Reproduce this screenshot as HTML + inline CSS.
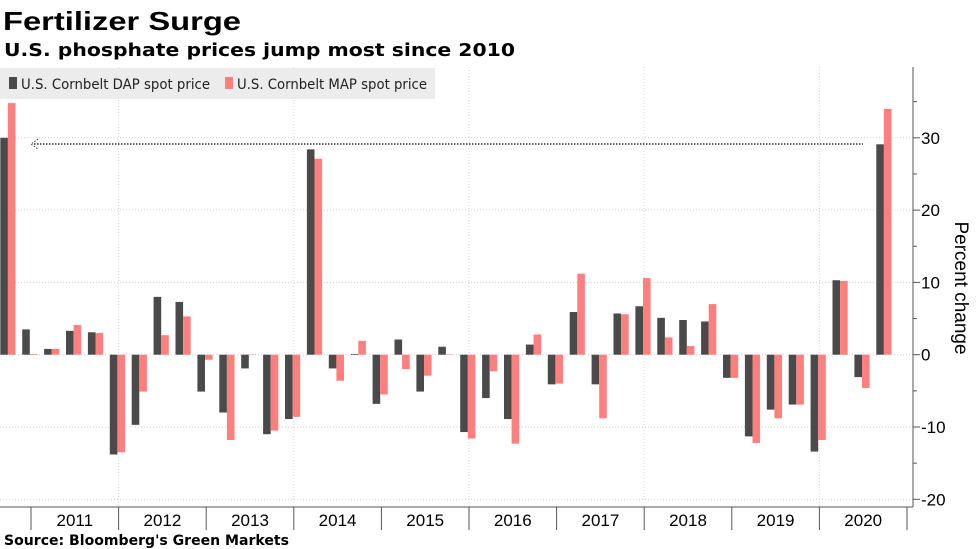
<!DOCTYPE html>
<html><head><meta charset="utf-8"><style>
body{margin:0;background:#fff;font-family:"DejaVu Sans","Liberation Sans",sans-serif;}
svg{display:block}
</style></head><body>
<svg width="977" height="549">
<text x="3" y="30" font-size="26" font-weight="bold" fill="#000" textLength="238" lengthAdjust="spacingAndGlyphs" font-family="Liberation Sans">Fertilizer Surge</text>
<text x="4" y="56" font-size="18" font-weight="bold" fill="#000" textLength="511" lengthAdjust="spacingAndGlyphs">U.S. phosphate prices jump most since 2010</text>
<g id="grid"></g>
<g id="bars"></g>
<g id="axes"></g>
<g>
<rect x="0" y="68" width="435" height="31" fill="#ececec"/>
<rect x="9" y="77" width="8" height="12" fill="#4a4a4a"/>
<text x="21" y="89" font-size="14" fill="#222" textLength="189" lengthAdjust="spacingAndGlyphs">U.S. Cornbelt DAP spot price</text>
<rect x="225" y="77" width="8" height="12" fill="#ff7f7f"/>
<text x="237" y="89" font-size="14" fill="#222" textLength="190" lengthAdjust="spacingAndGlyphs">U.S. Cornbelt MAP spot price</text>
</g>
<text transform="translate(955,288) rotate(90)" text-anchor="middle" font-size="19" fill="#000" font-family="Liberation Sans">Percent change</text>
<text x="4" y="545" font-size="14" font-weight="bold" fill="#000" textLength="285" lengthAdjust="spacingAndGlyphs">Source: Bloomberg's Green Markets</text>
</svg>
<script>
const dap=[30.0,3.5,0.8,3.3,3.1,-13.8,-9.7,8.0,7.3,-5.1,-8.0,-1.9,-11.0,-8.9,28.4,-1.9,0.1,-6.8,2.1,-5.1,1.1,-10.7,-6.0,-8.9,1.4,-4.1,5.9,-4.1,5.7,6.7,5.1,4.8,4.6,-3.2,-11.3,-7.6,-6.9,-13.4,10.3,-3.1,29.1];
const mapv=[34.8,0.1,0.8,4.1,3.0,-13.5,-5.1,2.7,5.3,-0.7,-11.8,0.05,-10.5,-8.6,27.1,-3.6,1.9,-5.5,-2.0,-2.9,0.05,-11.6,-2.3,-12.3,2.8,-4.0,11.2,-8.8,5.6,10.6,2.4,1.2,7.0,-3.2,-12.2,-8.8,-6.9,-11.8,10.2,-4.6,34.0];
const years=["2011","2012","2013","2014","2015","2016","2017","2018","2019","2020"];
const yTicks=[30,20,10,0,-10,-20];
const NS="http://www.w3.org/2000/svg";
const y=v=>354.7-v*7.23;
const gx=i=>0.3+i*21.9;
const yearX=k=>31+k*87.6;
function mk(tag,attrs,parent){const e=document.createElementNS(NS,tag);for(const k in attrs)e.setAttribute(k,attrs[k]);parent.appendChild(e);return e;}
const grid=document.getElementById('grid'),bars=document.getElementById('bars'),axes=document.getElementById('axes');
yTicks.forEach(t=>{
 const l=mk('line',{x1:0,x2:913,y1:y(t),y2:y(t),stroke:'#cfcfcf','stroke-dasharray':'1,2'},grid);
 
 
 const tk=mk('line',{x1:913,x2:920,y1:y(t),y2:y(t),stroke:'#555'},axes);
 
 
 const tx=mk('text',{x:921,y:y(t)+6,'font-size':17,fill:'#000','font-family':'Liberation Sans'},axes);
 tx.textContent=t<0?'-'+Math.abs(t):String(t);
 
 
});
[35,25,15,5,-5,-15].forEach(t=>{const m=mk('line',{x1:913,x2:917,y1:y(t),y2:y(t),stroke:'#555'},axes);
 
 });
for(let k=1;k<years.length;k+=2){const v=mk('line',{x1:yearX(k),x2:yearX(k),y1:67,y2:507,stroke:'#d6d6d6','stroke-dasharray':'1,2'},grid);
 
 }
dap.forEach((v,i)=>{
 const b=mk('rect',{x:gx(i),y:Math.min(y(v),y(0)),width:7.6,height:Math.abs(y(v)-y(0)),fill:'#4a4a4a'},bars);
 
 
 const m=mapv[i];
 const c=mk('rect',{x:gx(i)+7.6,y:Math.min(y(m),y(0)),width:7.6,height:Math.abs(y(m)-y(0)),fill:'#ff7f7f'},bars);
 
 
});
const ref=mk('line',{x1:34,x2:863,y1:144,y2:144,stroke:'#333','stroke-width':1.5,'stroke-dasharray':'1.5,1.5'},axes);


const ah=mk('path',{d:'M38,139 L31,144 L38,149',fill:'none',stroke:'#333','stroke-dasharray':'1.5,1.5'},axes);


const ya=mk('line',{x1:913,x2:913,y1:67,y2:507,stroke:'#555'},axes);


const xa=mk('line',{x1:0,x2:913,y1:507,y2:507,stroke:'#555'},axes);


for(let k=0;k<=years.length;k++){const t=mk('line',{x1:yearX(k),x2:yearX(k),y1:507,y2:530,stroke:'#555'},axes);
 
 }
years.forEach((yr,k)=>{const t=mk('text',{x:yearX(k)+43.8,y:526,'font-size':17,'text-anchor':'middle',fill:'#000','font-family':'Liberation Sans'},axes);
 t.textContent=yr;
 
 });
</script>
</body></html>
